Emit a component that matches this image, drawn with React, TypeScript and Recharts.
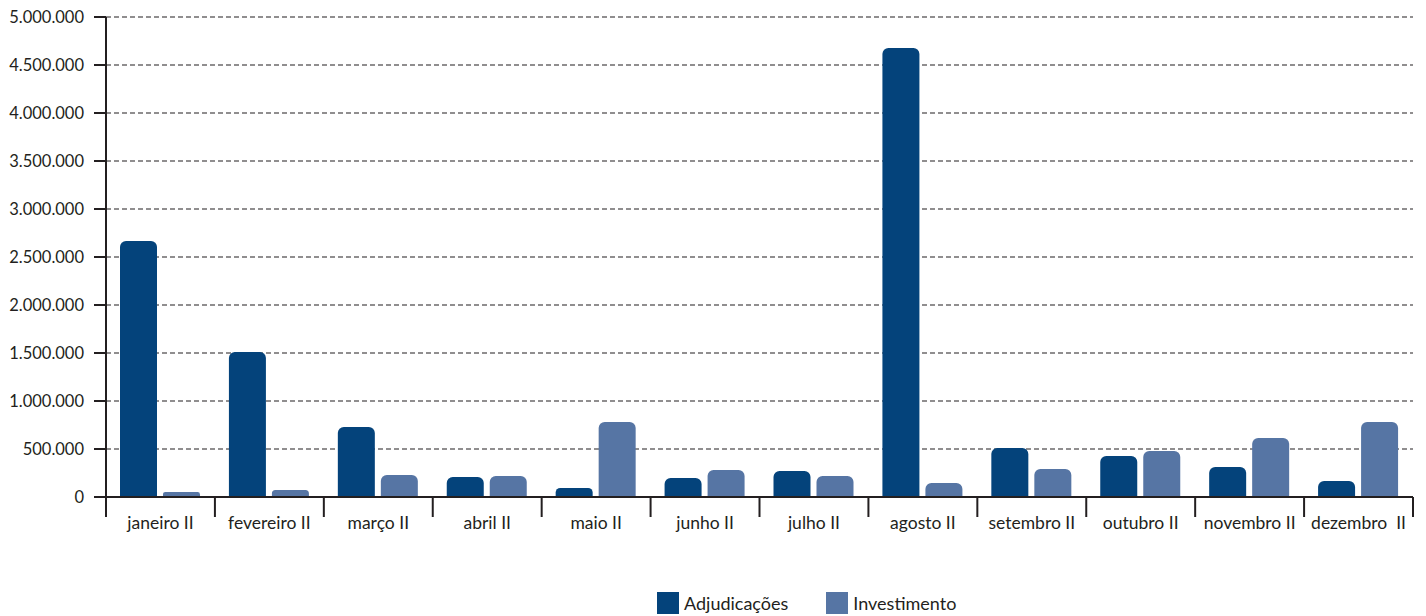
import React from "react";
import { BarChart, Bar, XAxis, YAxis, CartesianGrid, Legend } from "recharts";

const months = [
  "janeiro II",
  "fevereiro II",
  "março II",
  "abril II",
  "maio II",
  "junho II",
  "julho II",
  "agosto II",
  "setembro II",
  "outubro II",
  "novembro II",
  "dezembro  II",
];
const adjudicacoes = [2667000, 1510000, 729000, 208000, 94000, 198000, 271000, 4677000, 510000, 427000, 313000, 167000];
const investimento = [52000, 73000, 229000, 219000, 781000, 281000, 219000, 146000, 292000, 479000, 615000, 781000];
const yTicks = [0, 500000, 1000000, 1500000, 2000000, 2500000, 3000000, 3500000, 4000000, 4500000, 5000000];

const INK = "#231f20";
const DARK = "#04437b";
const LIGHT = "#5675a4";
const FONT = "Lato, 'Open Sans', sans-serif";

const fmt = (v: number) => String(v).replace(/\B(?=(\d{3})+(?!\d))/g, ".");

const data = months.map((m, i) => ({
  name: m,
  adj: adjudicacoes[i],
  inv: investimento[i],
}));

function MonthTick(props: any) {
  const { x, y, payload, index, width } = props;
  const band = (width || 1307) / months.length;
  const left = x - band / 2;
  return (
    <g>
      <line x1={left} y1={y} x2={left} y2={y + 20} stroke={INK} strokeWidth={2} />
      {index === months.length - 1 && (
        <line x1={x + band / 2} y1={y} x2={x + band / 2} y2={y + 20} stroke={INK} strokeWidth={2} />
      )}
      <text
        x={x}
        y={y + 32}
        textAnchor="middle"
        fontSize={17.5}
        fontFamily={FONT}
        fill={INK}
        style={{ whiteSpace: "pre" }}
      >
        {payload.value}
      </text>
    </g>
  );
}

function LegendBox() {
  const items = [
    { label: "Adjudicações", color: DARK },
    { label: "Investimento", color: LIGHT },
  ];
  return (
    <div style={{ display: "flex", alignItems: "center", fontFamily: FONT, fontSize: 18, color: INK }}>
      {items.map((it) => (
        <div key={it.label} style={{ display: "flex", alignItems: "center", marginRight: 38 }}>
          <span style={{ display: "inline-block", width: 22, height: 22, background: it.color, marginRight: 5 }} />
          <span>{it.label}</span>
        </div>
      ))}
    </div>
  );
}

export default function App() {
  return (
    <div style={{ position: "absolute", left: 0, top: 0, background: "#fff" }}>
      <BarChart
        width={1426}
        height={616}
        data={data}
        margin={{ top: 17, right: 13, left: 0, bottom: 0 }}
        barSize={37}
        barGap={6}
      >
        <CartesianGrid vertical={false} stroke={INK} strokeDasharray="5 3" strokeWidth={1.2} />
        <XAxis
          dataKey="name"
          height={97}
          interval={0}
          tickLine={false}
          tickSize={0}
          tickMargin={0}
          axisLine={{ stroke: INK, strokeWidth: 2 }}
          tick={<MonthTick />}
        />
        <YAxis
          width={106}
          domain={[0, 5000000]}
          ticks={yTicks}
          interval={0}
          tickSize={12}
          tickMargin={10}
          tickFormatter={fmt}
          axisLine={{ stroke: INK, strokeWidth: 2 }}
          tickLine={{ stroke: INK, strokeWidth: 2 }}
          tick={{ fontSize: 16.5, fontFamily: FONT, fill: INK }}
        />
        <Legend
          verticalAlign="bottom"
          content={<LegendBox />}
          wrapperStyle={{ left: 657, width: "auto", bottom: 2 }}
        />
        <Bar dataKey="adj" name="Adjudicações" fill={DARK} radius={[6, 6, 0, 0]} isAnimationActive={false} />
        <Bar dataKey="inv" name="Investimento" fill={LIGHT} radius={[6, 6, 0, 0]} isAnimationActive={false} />
      </BarChart>
    </div>
  );
}
